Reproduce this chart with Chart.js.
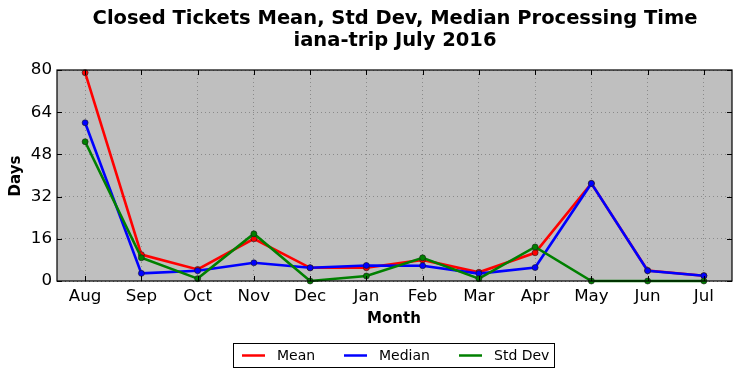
<!DOCTYPE html>
<html><head><meta charset="utf-8">
<script src="https://cdn.jsdelivr.net/npm/chart.js@4"></script>
<style>html,body{margin:0;padding:0;background:#fff;}#wrap{width:741px;height:378px;position:relative;}</style>
</head><body><div id="wrap"><canvas id="c" width="741" height="378"></canvas></div>
<script>
const months = ["Aug","Sep","Oct","Nov","Dec","Jan","Feb","Mar","Apr","May","Jun","Jul"];
const meanDays = [79, 10, 4.4, 16, 5, 5, 8, 3.3, 10.7, 37, 4, 2];
const medianDays = [60, 2.9, 3.9, 6.9, 5, 5.9, 5.8, 2.8, 5.1, 37, 3.9, 2];
const stdDays = [52.8, 8.8, 0.9, 17.9, 0, 1.9, 8.8, 0.9, 12.9, 0, 0, 0];
const yTicks = [0, 16, 32, 48, 64, 80];
const titleLines = ["Closed Tickets Mean, Std Dev, Median Processing Time", "iana-trip July 2016"];
const seriesNames = ["Mean", "Median", "Std Dev"];
const seriesColors = ["#ff0000", "#0000ff", "#008000"];

const FONT = "'DejaVu Sans', sans-serif";

const decor = {
  id: 'decor',
  beforeDraw(chart) {
    const {ctx, chartArea: a} = chart;
    ctx.save();
    ctx.fillStyle = '#bfbfbf';
    ctx.fillRect(a.left, a.top, a.right - a.left, a.bottom - a.top);
    ctx.restore();
  },
  afterDatasetsDraw(chart) {
    const {ctx, chartArea: a, scales} = chart;
    ctx.save();
    ctx.strokeStyle = '#000'; ctx.lineWidth = 1;
    yTicks.forEach(v => {
      const y = Math.round(scales.y.getPixelForValue(v)) + 0.5;
      ctx.beginPath(); ctx.moveTo(a.left, y); ctx.lineTo(a.left + 5, y);
      ctx.moveTo(a.right, y); ctx.lineTo(a.right - 5, y); ctx.stroke();
    });
    months.forEach((m, i) => {
      const x = Math.round(scales.x.getPixelForValue(i)) + 0.5;
      ctx.beginPath(); ctx.moveTo(x, a.top); ctx.lineTo(x, a.top + 5);
      ctx.moveTo(x, a.bottom); ctx.lineTo(x, a.bottom - 5); ctx.stroke();
    });
    ctx.lineWidth = 1.2;
    ctx.strokeRect(a.left, a.top, a.right - a.left, a.bottom - a.top);
    ctx.restore();
  },
  afterDraw(chart) {
    const {ctx} = chart;
    ctx.save();
    ctx.fillStyle = '#000';
    ctx.textAlign = 'center'; ctx.textBaseline = 'middle';
    ctx.font = "bold 19.5px " + FONT;
    ctx.fillText(titleLines[0], 395, 19);
    ctx.fillText(titleLines[1], 395, 41);
    ctx.font = "bold 15px " + FONT;
    ctx.fillText("Month", 394, 319);
    ctx.save();
    ctx.translate(16, 176); ctx.rotate(-Math.PI / 2);
    ctx.fillText("Days", 0, 0);
    ctx.restore();
    ctx.strokeStyle = '#000'; ctx.lineWidth = 1;
    ctx.fillStyle = '#fff';
    ctx.fillRect(233.5, 343.5, 321, 24);
    ctx.strokeRect(233.5, 343.5, 321, 24);
    const lx = [242, 344, 459];
    ctx.font = "14px " + FONT; ctx.textAlign = 'left';
    seriesNames.forEach((n, i) => {
      ctx.strokeStyle = seriesColors[i]; ctx.lineWidth = 2.5;
      ctx.beginPath(); ctx.moveTo(lx[i], 355.5); ctx.lineTo(lx[i] + 23, 355.5); ctx.stroke();
      ctx.fillStyle = '#000';
      ctx.fillText(n, lx[i] + 35, 356);
    });
    ctx.restore();
  }
};

function ds(label, data, color, order) {
  return {
    label, data, order,
    borderColor: color, backgroundColor: color,
    borderWidth: 2.6, tension: 0,
    pointRadius: 3, pointBorderColor: '#1a1a1a', pointBorderWidth: 0.6,
    pointBackgroundColor: color, clip: 4
  };
}

new Chart(document.getElementById('c'), {
  type: 'line',
  data: {
    labels: months,
    datasets: [
      ds(seriesNames[0], meanDays, seriesColors[0], 3),
      ds(seriesNames[1], medianDays, seriesColors[1], 2),
      ds(seriesNames[2], stdDays, seriesColors[2], 1)
    ]
  },
  options: {
    responsive: false, animation: false, devicePixelRatio: 1,
    layout: {padding: {top: 70, right: 9, left: 0, bottom: 0}},
    plugins: {legend: {display: false}, title: {display: false}, tooltip: {enabled: false}},
    scales: {
      x: {
        type: 'category', offset: true,
        grid: {offset: false, drawTicks: false, color: '#8a8a8a', lineWidth: 1},
        border: {display: false, dash: [1, 3]},
        ticks: {padding: 6, color: '#000', font: {family: FONT, size: 16.7}, maxRotation: 0, autoSkip: false},
        afterFit(s) { s.height = 97; }
      },
      y: {
        min: 0, max: 80,
        afterBuildTicks(s) { s.ticks = yTicks.map(v => ({value: v})); },
        grid: {drawTicks: false, color: '#8a8a8a', lineWidth: 1},
        border: {display: false, dash: [1, 3]},
        ticks: {padding: 5, color: '#000', font: {family: FONT, size: 16.7}},
        afterFit(s) { s.width = 57; }
      }
    }
  },
  plugins: [decor]
});
</script></body></html>
